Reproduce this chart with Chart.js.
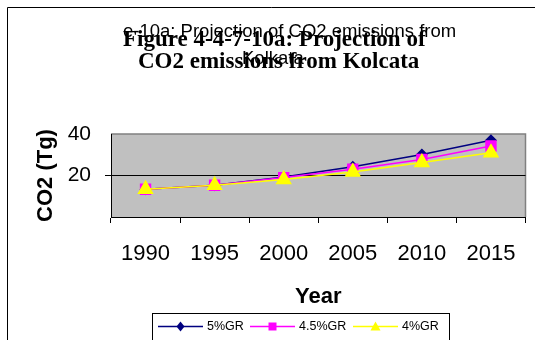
<!DOCTYPE html>
<html>
<head>
<meta charset="utf-8">
<script src="https://cdn.jsdelivr.net/npm/chart.js@4/dist/chart.umd.min.js"></script>
<style>
  html, body { margin: 0; padding: 0; background: #fff; }
  #wrap { width: 535px; height: 340px; }
</style>
</head>
<body>
<div id="wrap"><canvas id="co2Chart" width="535" height="340"></canvas></div>
<script>
// data
const years = ["1990", "1995", "2000", "2005", "2010", "2015"];
const gr5 = [13.4, 15.3, 19.3, 24.2, 30.1, 37.0];
const gr45 = [13.4, 15.3, 19.0, 23.0, 27.7, 34.2];
const gr4 = [13.4, 15.3, 18.1, 21.7, 26.3, 31.0];
const seriesNames = ["5%GR", "4.5%GR", "4%GR"];
const yTicks = [0, 20, 40];

// titles overlap in the original, draw them both
const titlePlugin = {
  id: "titles",
  afterDraw(chart) {
    const ctx = chart.ctx;
    ctx.save();
    // frame
    ctx.strokeStyle = "#000";
    ctx.lineWidth = 1;
    ctx.beginPath();
    ctx.moveTo(7.5, 340);
    ctx.lineTo(7.5, 7.5);
    ctx.lineTo(535, 7.5);
    ctx.stroke();

    ctx.fillStyle = "#000";
    ctx.textAlign = "left";
    ctx.textBaseline = "alphabetic";
    ctx.font = "18.5px 'Liberation Sans', Arial, sans-serif";
    ctx.fillText("e-10a: Projection of CO2 emissions from", 123, 37);
    ctx.fillText("Kolkata", 242, 64);
    ctx.font = "bold 23px 'Liberation Serif', 'Times New Roman', serif";
    ctx.fillText("Figure 4-4-7-10a: Projection of", 123, 46);
    ctx.fillText("CO2 emissions from Kolcata", 138, 68);

    // legend box
    ctx.strokeStyle = "#000";
    ctx.strokeRect(152.5, 313.5, 297, 40);
    const starts = [158, 250, 353];
    ctx.font = "12.5px 'Liberation Sans', Arial, sans-serif";
    ctx.textBaseline = "middle";
    chart.data.datasets.forEach((ds, i) => {
      const x0 = starts[i], yy = 326.5;
      ctx.strokeStyle = ds.borderColor;
      ctx.lineWidth = 1.5;
      ctx.beginPath();
      ctx.moveTo(x0, yy);
      ctx.lineTo(x0 + 45, yy);
      ctx.stroke();
      ctx.fillStyle = ds.pointBackgroundColor;
      const cx = x0 + 22.5;
      ctx.beginPath();
      if (ds.pointStyle === "rectRot") {
        ctx.moveTo(cx, yy - 5); ctx.lineTo(cx + 4, yy); ctx.lineTo(cx, yy + 5); ctx.lineTo(cx - 4, yy);
      } else if (ds.pointStyle === "rect") {
        ctx.rect(cx - 4, yy - 4, 8, 8);
      } else {
        ctx.moveTo(cx, yy - 5); ctx.lineTo(cx + 5, yy + 4); ctx.lineTo(cx - 5, yy + 4);
      }
      ctx.closePath();
      ctx.fill();
      ctx.fillStyle = "#000";
      ctx.fillText(ds.label, x0 + 49, yy);
    });
    ctx.restore();
  }
};

const plotBg = {
  id: "plotBg",
  beforeDraw(chart) {
    const a = chart.chartArea;
    chart.ctx.save();
    chart.ctx.fillStyle = "#c0c0c0";
    chart.ctx.fillRect(a.left, a.top, a.right - a.left, a.bottom - a.top);
    chart.ctx.strokeStyle = "#808080";
    chart.ctx.lineWidth = 1.5;
    chart.ctx.beginPath();
    chart.ctx.moveTo(a.left, a.top);
    chart.ctx.lineTo(a.right, a.top);
    chart.ctx.lineTo(a.right, a.bottom);
    chart.ctx.stroke();
    chart.ctx.restore();
  }
};

const ctx = document.getElementById("co2Chart").getContext("2d");
new Chart(ctx, {
  type: "line",
  data: {
    labels: years,
    datasets: [
      { label: seriesNames[0], data: gr5, order: 2, borderColor: "#000080", backgroundColor: "#000080",
        pointBackgroundColor: "#000080", pointBorderColor: "#000080", pointStyle: "rectRot", pointRadius: 5, borderWidth: 1.5 },
      { label: seriesNames[1], data: gr45, order: 1, borderColor: "#ff00ff", backgroundColor: "#ff00ff",
        pointBackgroundColor: "#ff00ff", pointBorderColor: "#ff00ff", pointStyle: "rect", pointRadius: 7, borderWidth: 1.5 },
      { label: seriesNames[2], data: gr4, order: 0, borderColor: "#ffff00", backgroundColor: "#ffff00",
        pointBackgroundColor: "#ffff00", pointBorderColor: "#ffff00", pointStyle: "triangle", pointRadius: 8, borderWidth: 1.5 }
    ]
  },
  options: {
    responsive: false,
    animation: false,
    layout: { padding: { top: 134, left: 0, right: 7, bottom: 0 } },
    plugins: { legend: { display: false }, title: { display: false }, tooltip: { enabled: false } },
    elements: { line: { tension: 0 } },
    scales: {
      x: {
        offset: true,
        afterFit: s => { s.height = 123; },
        grid: { offset: true, drawOnChartArea: false, drawTicks: true, tickLength: 6, color: "#000" },
        border: { color: "#000", width: 1 },
        ticks: { color: "#000", padding: 18, maxRotation: 0, font: { family: "'Liberation Sans', Arial, sans-serif", size: 22 } },
        title: { display: true, text: "Year", color: "#000", padding: { bottom: 30, top: 0 },
          font: { family: "'Liberation Sans', Arial, sans-serif", size: 22, weight: "bold" } }
      },
      y: {
        min: 0, max: 40,
        afterFit: s => { s.width = 111; },
        afterBuildTicks: s => { s.ticks = yTicks.map(v => ({ value: v })); },
        grid: { drawTicks: true, tickLength: 6,
          color: c => (c.tick && c.tick.value === 20 ? "#000" : "rgba(0,0,0,0)") },
        border: { color: "#000", width: 1 },
        ticks: { color: "#000", padding: 14, callback: v => (v === 0 ? "" : v),
          font: { family: "'Liberation Sans', Arial, sans-serif", size: 21 } },
        title: { display: true, text: "CO2 (Tg)", color: "#000", padding: { top: 33, bottom: 0 },
          font: { family: "'Liberation Sans', Arial, sans-serif", size: 22, weight: "bold" } }
      }
    }
  },
  plugins: [plotBg, titlePlugin]
});
</script>
</body>
</html>
